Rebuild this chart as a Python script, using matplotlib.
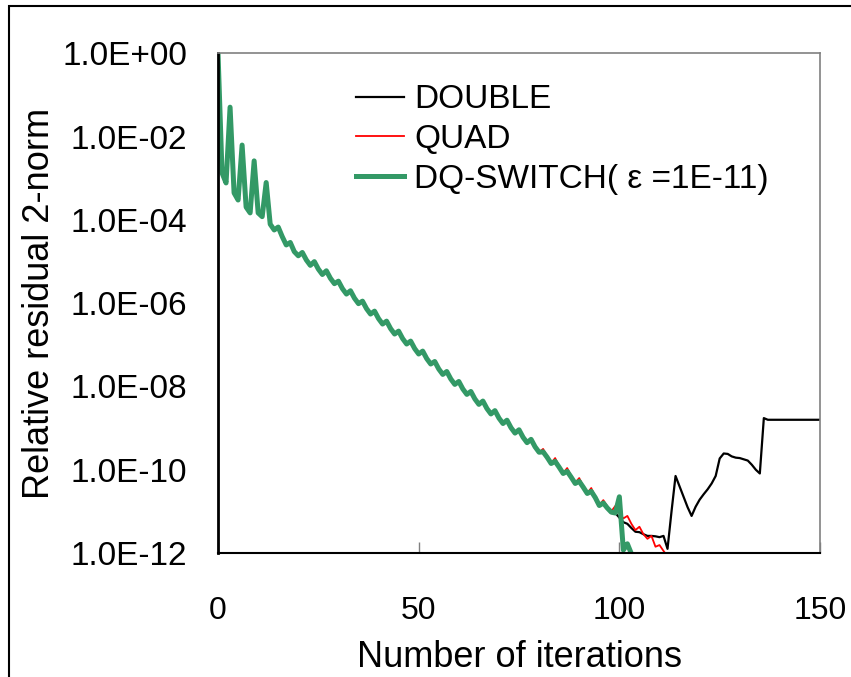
import matplotlib
matplotlib.use("Agg")
import matplotlib.pyplot as plt
from matplotlib.patches import Rectangle
import numpy as np

plt.rcParams['font.family'] = ['Liberation Sans', 'DejaVu Sans']

# residuals, stored as log10 values, one per iteration
# iterations 0..80 are shared by all three runs
common_log = [
    0.00, -2.87, -3.11, -1.29, -3.35, -3.52, -2.20, -3.69, -3.83, -2.58,
    -3.83, -3.92, -3.10, -4.10, -4.24, -4.17, -4.40, -4.60, -4.54, -4.76,
    -4.86, -4.78, -4.96, -5.09, -5.00, -5.18, -5.31, -5.22, -5.40, -5.53,
    -5.47, -5.65, -5.78, -5.70, -5.88, -6.01, -5.95, -6.13, -6.26, -6.19,
    -6.37, -6.50, -6.43, -6.61, -6.74, -6.67, -6.85, -6.98, -6.91, -7.09,
    -7.22, -7.15, -7.33, -7.46, -7.40, -7.58, -7.71, -7.64, -7.82, -7.95,
    -7.88, -8.06, -8.19, -8.12, -8.30, -8.43, -8.35, -8.53, -8.66, -8.58,
    -8.76, -8.89, -8.81, -8.99, -9.12, -9.04, -9.22, -9.35, -9.27, -9.45,
    -9.58,
]
# DOUBLE from iteration 81 to 150
double_tail = [
    -9.57, -9.70, -9.85, -9.80, -9.94, -10.09, -10.04, -10.18, -10.33,
    -10.28, -10.42, -10.57, -10.52, -10.67, -10.86, -10.80, -10.92, -11.02,
    -11.04,
    -11.15, -11.26, -11.30, -11.40, -11.49, -11.50, -11.55, -11.59, -11.59,
    -11.60, -11.62, -11.59, -11.90, -11.00, -10.15, -10.40, -10.65, -10.90,
    -11.11, -10.89, -10.72, -10.59, -10.47, -10.33, -10.15, -9.73, -9.61,
    -9.62, -9.68, -9.71, -9.72, -9.75, -9.78, -9.88, -10.00, -10.09, -8.76,
    -8.80, -8.80, -8.80, -8.80, -8.80, -8.80, -8.80, -8.80, -8.80, -8.80,
    -8.80, -8.80, -8.80, -8.80,
]
# QUAD from iteration 81 to 113
quad_tail = [
    -9.50, -9.68, -9.84, -9.72, -9.92, -10.08, -9.96, -10.15, -10.31,
    -10.20, -10.40, -10.56, -10.44, -10.66, -10.85, -10.73, -10.88, -11.00,
    -10.87, -11.05, -11.17, -11.11, -11.30, -11.45, -11.37, -11.55, -11.66,
    -11.59, -11.85, -11.81, -11.95, -12.08, -12.40,
]
# DQ-SWITCH: same as DOUBLE up to 99, then switches
dq_tail = [-10.65, -11.93, -11.78, -12.02, -12.50]

double_log = common_log + double_tail
quad_log = common_log + quad_tail
dq_log = common_log + double_tail[:19] + dq_tail

it_double = np.arange(len(double_log))
it_quad = np.arange(len(quad_log))
it_dq = np.arange(len(dq_log))

fig = plt.figure(figsize=(8.51, 6.77), dpi=100)
ax = fig.add_axes([0.2562, 0.1832, 0.7074, 0.7378])

ax.plot(it_double, 10.0 ** np.array(double_log), color='black', lw=1.6, label='DOUBLE')
ax.plot(it_quad, 10.0 ** np.array(quad_log), color='#ff0000', lw=1.3, label='QUAD')
ax.plot(it_dq, 10.0 ** np.array(dq_log), color='#339966', lw=3.6,
        label='DQ-SWITCH( ε =1E-11)', solid_joinstyle='round')

ax.set_yscale('log')
ax.set_xlim(0, 150)
ax.set_ylim(1e-12, 1)
yt = [10.0 ** e for e in range(0, -13, -2)]
ax.set_yticks(yt)
ax.set_yticklabels(['1.0E%+03d' % e for e in range(0, -13, -2)])
ax.minorticks_off()
ax.set_xticks([0, 50, 100, 150])
ax.tick_params(axis='y', length=0, pad=22, labelsize=24)
ax.tick_params(axis='x', direction='in', length=8, width=1, color='#808080',
               pad=31, labelsize=23)

for side in ['top', 'right']:
    ax.spines[side].set_color('#808080')
    ax.spines[side].set_linewidth(1.2)
ax.spines['left'].set_linewidth(2)
ax.spines['bottom'].set_linewidth(1.5)

ax.set_xlabel('Number of iterations', fontsize=26, labelpad=10)
ax.set_ylabel('Relative residual 2-norm', fontsize=26, labelpad=4)

ax.legend(loc='upper left', bbox_to_anchor=(0.19, 0.985), frameon=False,
          fontsize=24, handlelength=1.45, handletextpad=0.3, labelspacing=0.26,
          borderpad=0.2)

fig.patches.append(Rectangle((9 / 851, -0.1), 1.2, 1.1 - 6 / 677,
                             transform=fig.transFigure, fill=False,
                             edgecolor='black', lw=1.5))

fig.savefig('out.png', dpi=100)
